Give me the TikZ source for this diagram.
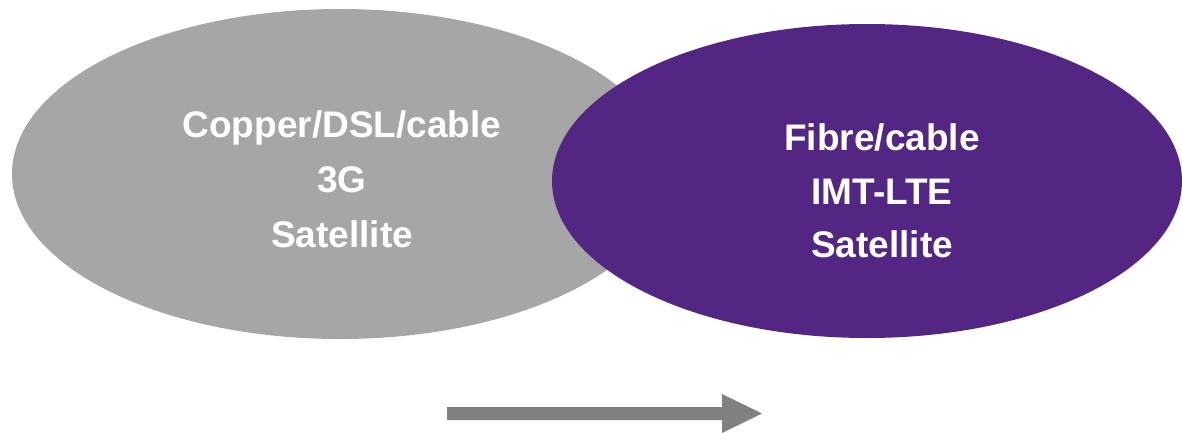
\documentclass[tikz,border=0pt]{standalone}
\usepackage{fontspec}
\setmainfont{Liberation Sans}
\definecolor{ovalgray}{HTML}{A6A6A6}
\definecolor{ovalpurple}{HTML}{522682}
\definecolor{arrowgray}{HTML}{808080}
\begin{document}
\begin{tikzpicture}[x=1pt,y=-1pt,
  lbl/.style={text=white,font=\fontsize{37}{40}\selectfont\bfseries,anchor=base,inner sep=0pt}]
\useasboundingbox (0,0) rectangle (1182,433);
% ellipses
\fill[ovalgray] (340,174) ellipse [x radius=328, y radius=165];
\fill[ovalpurple] (867,181) ellipse [x radius=315, y radius=157];
% left texts
\node[lbl] (l1) at (342,137) {Copper/DSL/cable};
\node[lbl] (l2) at (342,192) {3G};
\node[lbl] (l3) at (342,247) {Satellite};
% right texts
\node[lbl] (r1) at (882,150) {Fibre/cable};
\node[lbl] (r2) at (882,204) {IMT-LTE};
\node[lbl] (r3) at (882,257) {Satellite};
% arrow
\coordinate (as) at (447,413.5);
\coordinate (ae) at (762,413.5);
\fill[arrowgray] (as) ++(0,-6.5) -- (722,407) -- (722,394) -- (ae) -- (722,433) -- (722,420) -- (447,420) -- cycle;
\end{tikzpicture}
\end{document}
